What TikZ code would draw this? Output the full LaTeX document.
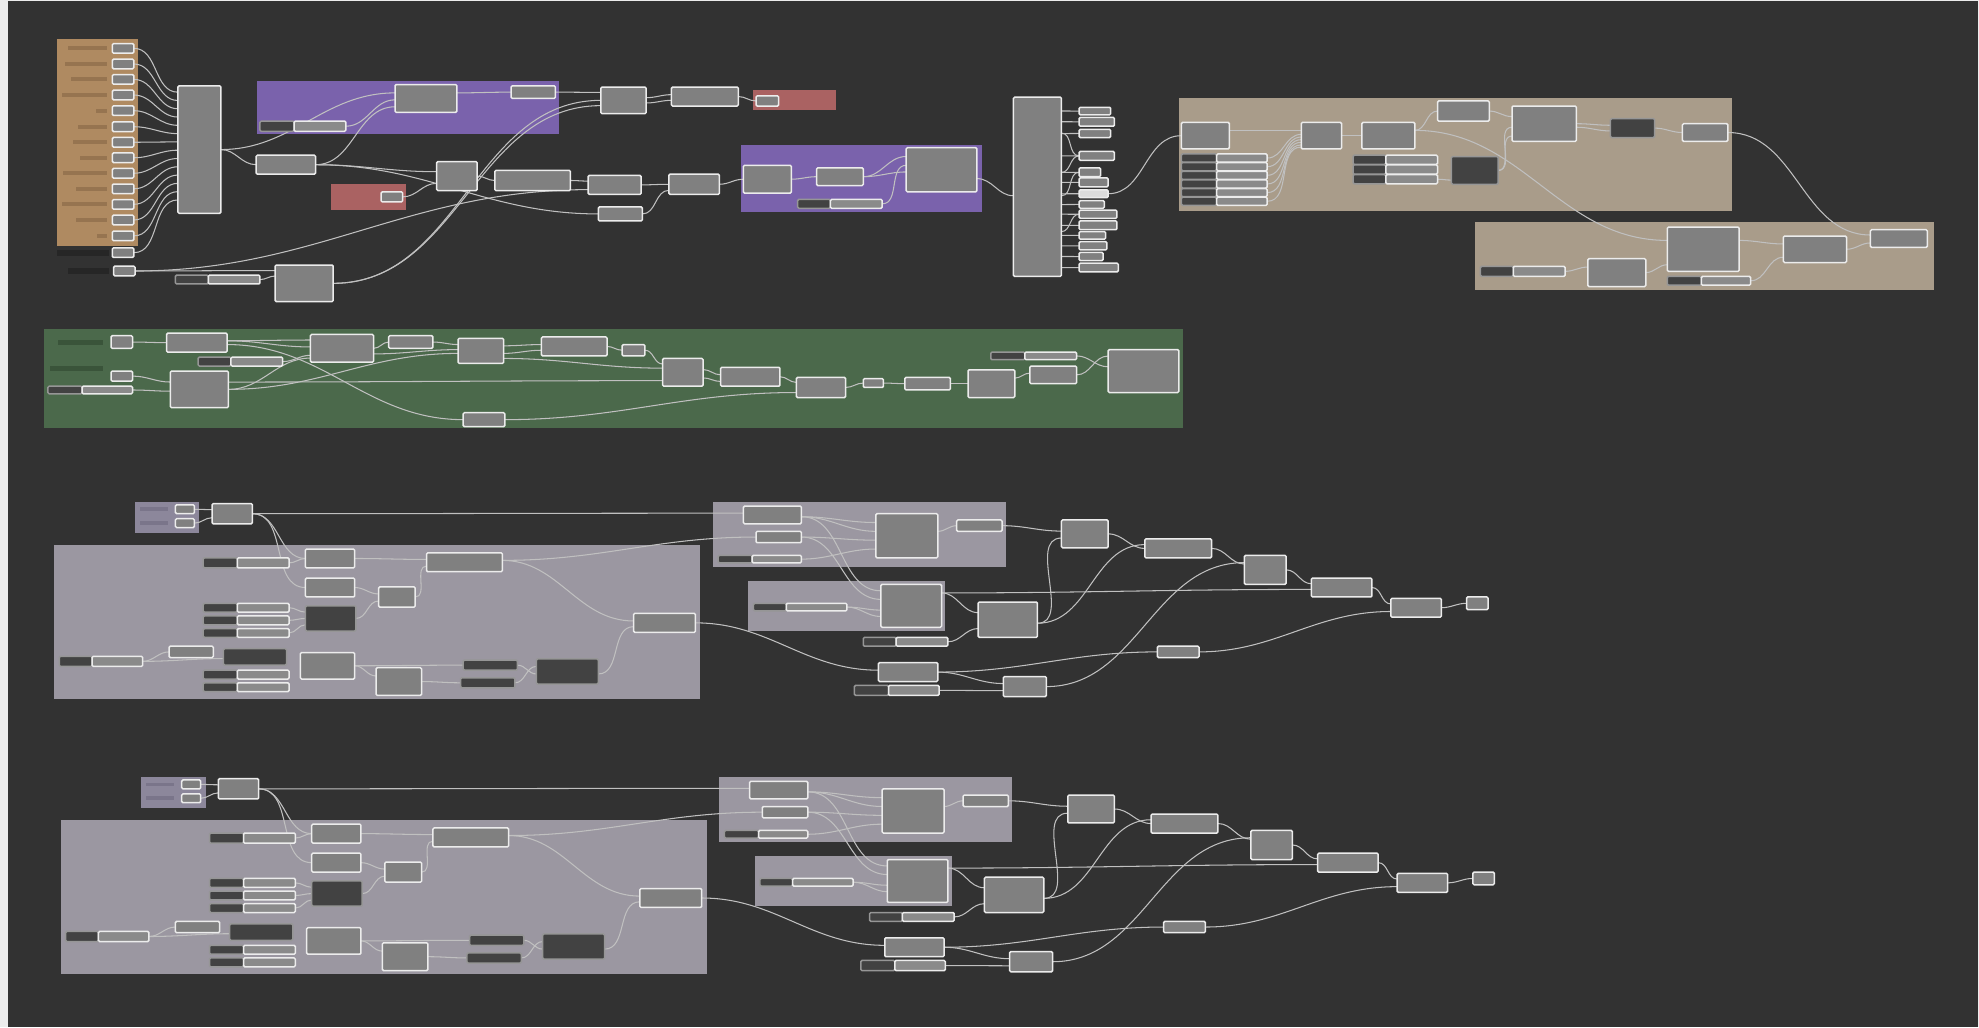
\documentclass[tikz,border=0pt]{standalone}
\usetikzlibrary{calc}
\pgfdeclarelayer{grp}\pgfdeclarelayer{wir}
\pgfsetlayers{grp,wir,main}
\definecolor{bgc}{RGB}{50,50,50}
\definecolor{edgec}{RGB}{236,236,236}
\definecolor{tanc}{RGB}{175,138,97}
\definecolor{tanlab}{RGB}{150,116,80}
\definecolor{purc}{RGB}{122,98,172}
\definecolor{redc}{RGB}{170,98,98}
\definecolor{beic}{RGB}{169,156,138}
\definecolor{grnc}{RGB}{75,105,75}
\definecolor{grnlab}{RGB}{58,84,58}
\definecolor{gryc}{RGB}{155,151,161}
\definecolor{lgrpc}{RGB}{140,135,155}
\definecolor{lgrplab}{RGB}{122,117,138}
\definecolor{ndfill}{RGB}{128,128,128}
\definecolor{ndline}{RGB}{236,236,236}
\definecolor{dkfill}{RGB}{66,66,66}
\definecolor{dkline}{RGB}{150,150,150}
\definecolor{slfill}{RGB}{138,138,138}
\definecolor{wirec}{RGB}{192,192,192}
\definecolor{blklab}{RGB}{38,38,38}
\tikzset{
 gn/.style={draw=ndline, fill=ndfill, line width=1.5pt, rounded corners=1.2pt, inner sep=0pt, outer sep=0pt},
 dn/.style={gn, draw=dkline, fill=dkfill},
 sdk/.style={gn, draw=dkline, fill=dkfill},
 sl/.style={gn, fill=slfill},
 hl/.style={gn, fill=ndline!85!ndfill},
 wire/.style={draw=wirec, line width=1.05pt},
}
% name x1 y1 x2 y2
\newcommand\gnd[6][gn]{\node[#1, minimum width={((#5)-(#3))*1.2621pt}, minimum height={((#6)-(#4))*1.2621pt}] (#2) at ({((#3)+(#5))/2},{((#4)+(#6))/2}) {};}
% name x1 y1 xsplit x2 y2
\newcommand\sld[6]{%
 \node[sdk, minimum width={((#4)-(#2))*1.2621pt}, minimum height={((#6)-(#3))*1.2621pt}] at ({((#2)+(#4))/2},{((#3)+(#6))/2}) {};
 \node[sl, minimum width={((#5)-(#4))*1.2621pt}, minimum height={((#6)-(#3))*1.2621pt}] (#1) at ({((#4)+(#5))/2},{((#3)+(#6))/2}) {};}
\newcommand\wre[4]{\draw[wire] ($(#1.north east)!#2!(#1.south east)$) to[out=0,in=180] ($(#3.north west)!#4!(#3.south west)$);}
\newcommand\lbar[5]{\fill[#1] (#2,#3) rectangle (#4,#5);}

\newcommand\lowsec[3]{%
\begin{scope}[shift={(#2,#3)}]
 \begin{pgfonlayer}{grp}
 \fill[lgrpc] (107,398) rectangle (158,422);
 \lbar{lgrplab}{111}{402}{133}{405}
 \lbar{lgrplab}{111}{413}{133}{416}
 \fill[gryc] (43,432) rectangle (555,554);
 \fill[gryc] (565,398) rectangle (797,449);
 \fill[gryc] (593,460) rectangle (749,500);
 \end{pgfonlayer}
 \gnd{#1n1}{139}{400}{154}{407}
 \gnd{#1n2}{139}{411}{154}{418}
 \gnd{#1a}{168}{399}{200}{415}
 \sld{#1sl1}{161}{442}{188}{229}{450}
 \gnd{#1b}{242}{435}{281}{450}
 \gnd{#1c}{338}{438}{398}{453}
 \gnd{#1d}{242}{458}{281}{473}
 \gnd{#1e}{300}{465}{329}{481}
 \sld{#1sl2}{161}{478}{188}{229}{485}
 \sld{#1sl3}{161}{488}{188}{229}{495}
 \sld{#1sl4}{161}{498}{188}{229}{505}
 \gnd[dn]{#1f}{242}{480}{282}{500}
 \sld{#1sl5}{47}{520}{73}{113}{528}
 \gnd{#1g}{134}{512}{169}{521}
 \gnd[dn]{#1h}{177}{514}{227}{527}
 \sld{#1sl6}{161}{531}{188}{229}{538}
 \sld{#1sl7}{161}{541}{188}{229}{548}
 \gnd{#1i}{238}{517}{281}{538}
 \gnd{#1j}{298}{529}{334}{551}
 \gnd[dn]{#1k}{367}{523}{410}{531}
 \gnd[dn]{#1l}{365}{537}{408}{545}
 \gnd[dn]{#1m}{425}{522}{474}{542}
 \gnd{#1nn}{502}{486}{551}{501}
 \gnd{#1A1}{589}{401}{635}{415}
 \gnd{#1A2}{599}{421}{635}{430}
 \sld{#1Asl}{569}{440}{596}{635}{446}
 \gnd{#1Abig}{694}{407}{743}{442}
 \gnd{#1A3}{758}{412}{794}{421}
 \sld{#1Bsl}{597}{478}{623}{671}{484}
 \gnd{#1Bbig}{698}{463}{746}{497}
 \gnd{#1o}{775}{477}{822}{505}
 \sld{#1sl8}{684}{505}{710}{751}{512}
 \gnd{#1p}{841}{412}{878}{434}
 \gnd{#1q}{907}{427}{960}{442}
 \gnd{#1r}{986}{440}{1019}{463}
 \gnd{#1s}{1039}{458}{1087}{473}
 \gnd{#1t}{1102}{474}{1142}{489}
 \gnd{#1u}{1162}{473}{1179}{483}
 \gnd{#1v}{917}{512}{950}{521}
 \gnd{#1w}{696}{525}{743}{540}
 \sld{#1sl9}{677}{543}{704}{744}{551}
 \gnd{#1x}{795}{536}{829}{552}
\end{scope}
\begin{pgfonlayer}{wir}
 \wre{#1n1}{0.5}{#1a}{0.3}
 \wre{#1n2}{0.5}{#1a}{0.7}
 \wre{#1a}{0.5}{#1A1}{0.4}
 \wre{#1a}{0.5}{#1b}{0.5}
 \wre{#1a}{0.5}{#1d}{0.5}
 \wre{#1sl1}{0.5}{#1b}{0.5}
 \wre{#1b}{0.5}{#1c}{0.35}
 \wre{#1d}{0.5}{#1e}{0.35}
 \wre{#1f}{0.5}{#1e}{0.7}
 \wre{#1sl2}{0.5}{#1f}{0.25}
 \wre{#1sl3}{0.5}{#1f}{0.5}
 \wre{#1sl4}{0.5}{#1f}{0.75}
 \wre{#1e}{0.5}{#1c}{0.7}
 \wre{#1c}{0.4}{#1A2}{0.5}
 \wre{#1c}{0.4}{#1nn}{0.4}
 \wre{#1sl5}{0.5}{#1g}{0.5}
 \wre{#1sl5}{0.5}{#1h}{0.6}
 \wre{#1i}{0.5}{#1k}{0.5}
 \wre{#1i}{0.5}{#1j}{0.3}
 \wre{#1j}{0.5}{#1l}{0.5}
 \wre{#1k}{0.5}{#1m}{0.6}
 \wre{#1l}{0.5}{#1m}{0.3}
 \wre{#1m}{0.6}{#1nn}{0.7}
 \wre{#1nn}{0.5}{#1w}{0.4}
 \wre{#1A1}{0.6}{#1Abig}{0.2}
 \wre{#1A1}{0.6}{#1Abig}{0.4}
 \wre{#1A1}{0.6}{#1Bbig}{0.15}
 \wre{#1A2}{0.5}{#1Abig}{0.6}
 \wre{#1A2}{0.5}{#1Bbig}{0.35}
 \wre{#1Asl}{0.5}{#1Abig}{0.8}
 \wre{#1Bsl}{0.5}{#1Bbig}{0.6}
 \wre{#1Bsl}{0.5}{#1Bbig}{0.75}
 \wre{#1Abig}{0.4}{#1A3}{0.5}
 \wre{#1A3}{0.5}{#1p}{0.4}
 \wre{#1Bbig}{0.2}{#1o}{0.3}
 \wre{#1Bbig}{0.2}{#1s}{0.6}
 \wre{#1sl8}{0.5}{#1o}{0.75}
 \wre{#1o}{0.6}{#1p}{0.65}
 \wre{#1o}{0.6}{#1q}{0.3}
 \wre{#1p}{0.5}{#1q}{0.5}
 \wre{#1q}{0.5}{#1r}{0.3}
 \wre{#1x}{0.5}{#1r}{0.25}
 \wre{#1r}{0.5}{#1s}{0.3}
 \wre{#1s}{0.5}{#1t}{0.3}
 \wre{#1t}{0.5}{#1u}{0.5}
 \wre{#1w}{0.5}{#1v}{0.5}
 \wre{#1w}{0.5}{#1x}{0.35}
 \wre{#1sl9}{0.5}{#1x}{0.7}
 \wre{#1v}{0.5}{#1t}{0.7}
\end{pgfonlayer}
}

\begin{document}
\begin{tikzpicture}[x=1.2621pt,y=-1.2621pt]
\useasboundingbox (0,0) rectangle (1568,814);
\begin{pgfonlayer}{grp}
\fill[bgc] (0,0) rectangle (1568,814);
\fill[edgec] (0,0) rectangle (6.3,814);
\fill[edgec] (0,0) rectangle (1568,0.8);
\fill[edgec] (1567.2,0) rectangle (1568,814);
% top groups
\fill[tanc] (45,31) rectangle (109,195);
\fill[purc] (204,64) rectangle (443,106);
\fill[redc] (262,146) rectangle (322,166);
\fill[redc] (597,71) rectangle (662,87);
\fill[purc] (587,115) rectangle (778,168);
\fill[beic] (934,78) rectangle (1372,167);
\fill[beic] (1169,176) rectangle (1532,230);
\fill[grnc] (35,261) rectangle (937,339);
% label bars
\foreach \yc/\xl in {38.3/54,50.7/51.6,62.9/56,75.3/49.4,87.7/75.8,100.4/62,112.7/57.6,125/63,137.3/50,149.6/60.6,161.9/49.4,174.3/60.6,186.9/77}
 {\fill[tanlab] (\xl,\yc-1.6) rectangle (85,\yc+1.6);}
\lbar{blklab}{45.5}{197.8}{86}{202.6}
\lbar{blklab}{54}{212.3}{86}{217.1}
\lbar{grnlab}{46}{269}{82}{273}
\lbar{grnlab}{40}{290}{82}{294}
\end{pgfonlayer}

% ---------- top section nodes
\foreach \i/\yc in {1/38.3,2/50.7,3/62.9,4/75.3,5/87.7,6/100.4,7/112.7,8/125,9/137.3,10/149.6,11/161.9,12/174.3,13/186.9,14/200.2}
 {\gnd{s\i}{89}{\yc-3.8}{106}{\yc+3.8}}
\gnd{s15}{90}{210.9}{107}{218.5}
\gnd{M}{141}{68}{175}{169}
\gnd{P1big}{313}{67}{362}{89}
\gnd{P1small}{405}{68}{440}{78}
\sld{P1sl}{206}{96}{233}{274}{104}
\gnd{A1}{203}{123}{250}{138}
\gnd{R1n}{302}{152}{319}{160}
\gnd{A2}{346}{128}{378}{151}
\gnd{A3}{392}{135}{452}{151}
\gnd{A4}{466}{139}{508}{154}
\gnd{A5}{474}{164}{509}{175}
\sld{B1}{139}{218}{165}{206}{225}
\gnd{B2}{218}{210}{264}{239}
\gnd{E1}{476}{69}{512}{90}
\gnd{E2}{532}{69}{585}{84}
\gnd{R2n}{599}{76}{617}{84}
\gnd{A6}{530}{138}{570}{154}
\gnd{P2a}{589}{131}{627}{153}
\gnd{P2b}{647}{133}{684}{147}
\gnd{P2big}{718}{117}{774}{152}
\sld{P2sl}{632}{158}{658}{699}{165}
\gnd{T}{803}{77}{841}{219}
\foreach \i/\ya/\yb/\xr in {1/85/91/880,2/93/100/883,3/102.5/109/880,4/120/127/883,5/133/140/872,6/141/148/878,8/159/165/875,9/166.5/173/885,10/175/182/885,11/183.5/189.5/876,12/191.5/198/877,13/200/206.5/874,14/208.5/215.5/886}
 {\gnd{o\i}{855}{\ya}{\xr}{\yb}}
\gnd[hl]{o7}{855}{150.5}{878}{156.5}
% beige
\gnd{G1a}{936}{97}{974}{118}
\foreach \i in {1,...,6}{\sld{G1s\i}{936}{122+(\i-1)*6.85}{964}{1004}{122+\i*6.85-0.4}}
\gnd{G1b}{1031}{97}{1063}{118}
\gnd{G1c}{1079}{97}{1121}{118}
\gnd{G1d}{1139}{80}{1180}{96}
\gnd{G1e}{1198}{84}{1249}{112}
\gnd[dn]{G1f}{1276}{94}{1311}{109}
\gnd{G1g}{1333}{98}{1369}{112}
\foreach \i in {1,2,3}{\sld{G1t\i}{1072}{123+(\i-1)*7.7}{1098}{1139}{123+\i*7.7-0.5}}
\gnd[dn]{G1h}{1150}{124}{1187}{146}
\sld{G2sl}{1173}{211}{1199}{1240}{219}
\gnd{G2a}{1258}{205}{1304}{227}
\gnd{G2b}{1321}{180}{1378}{215}
\sld{G2sl2}{1321}{219}{1348}{1387}{226}
\gnd{G2c}{1413}{187}{1463}{208}
\gnd{G2d}{1482}{182}{1527}{196}
% green
\gnd{Gs1}{88}{266}{105}{276}
\gnd{Gn1}{132}{264}{180}{279}
\sld{Gsl1}{157}{283}{183}{224}{290}
\gnd{Gs2}{88}{294}{105}{302}
\sld{Gsl2}{38}{306}{65}{105}{312}
\gnd{Gn2}{135}{294}{181}{323}
\gnd{Gn3}{246}{265}{296}{287}
\gnd{Gn4}{308}{266}{343}{276}
\gnd{Gn5}{363}{268}{399}{288}
\gnd{Gn6}{429}{267}{481}{282}
\gnd{Gs3}{493}{273}{511}{282}
\gnd{Gn7}{367}{327}{400}{338}
\gnd{Gn8}{525}{284}{557}{306}
\gnd{Gn9}{571}{291}{618}{306}
\gnd{Gn10}{631}{299}{670}{315}
\gnd{Gs4}{684}{300}{700}{307}
\gnd{Gn11}{717}{299}{753}{309}
\gnd{Gn12}{767}{293}{804}{315}
\sld{Gsl3}{785}{279}{812}{853}{285}
\gnd{Gn13}{816}{290}{853}{304}
\gnd{Gn14}{878}{277}{934}{311}

% ---------- wires top
\begin{pgfonlayer}{wir}
\foreach \i in {1,...,14}{\pgfmathsetmacro\ff{0.05+(\i-1)*0.065}\wre{s\i}{0.5}{M}{\ff}}
\wre{M}{0.5}{P1big}{0.3}
\wre{M}{0.5}{A1}{0.5}
\wre{P1sl}{0.5}{P1big}{0.55}
\wre{A1}{0.5}{P1big}{0.8}
\wre{P1big}{0.3}{P1small}{0.5}
\wre{P1small}{0.5}{E1}{0.2}
\wre{A1}{0.5}{A2}{0.35}
\wre{A1}{0.5}{A5}{0.5}
\wre{R1n}{0.5}{A2}{0.75}
\wre{A2}{0.5}{A3}{0.5}
\wre{A3}{0.5}{A4}{0.3}
\wre{s15}{0.5}{A4}{0.75}
\wre{s15}{0.5}{B2}{0.15}
\wre{B1}{0.5}{B2}{0.3}
\wre{B2}{0.5}{E1}{0.5}
\wre{B2}{0.5}{E1}{0.7}
\wre{A4}{0.5}{A6}{0.5}
\wre{A5}{0.5}{A6}{0.8}
\wre{A6}{0.5}{P2a}{0.5}
\wre{E1}{0.4}{E2}{0.4}
\wre{E1}{0.6}{E2}{0.7}
\wre{E2}{0.5}{R2n}{0.5}
\wre{P2a}{0.5}{P2b}{0.5}
\wre{P2b}{0.5}{P2big}{0.2}
\wre{P2b}{0.5}{P2big}{0.55}
\wre{P2sl}{0.5}{P2big}{0.4}
\wre{P2big}{0.7}{T}{0.55}
\foreach \i/\f in {1/0.077,2/0.137,3/0.203,4/0.327,5/0.419,6/0.475,7/0.539,8/0.599,9/0.653,10/0.715,11/0.771,12/0.83,13/0.889,14/0.951}{\wre{T}{\f}{o\i}{0.5}}
\wre{T}{0.2}{o4}{0.5}
\wre{T}{0.42}{o4}{0.5}
\wre{T}{0.55}{o5}{0.5}
\wre{T}{0.75}{o9}{0.5}
\wre{o7}{0.5}{G1a}{0.5}
% beige
\wre{G1a}{0.3}{G1b}{0.3}
\foreach \i/\f in {1/0.45,2/0.55,3/0.65,4/0.75,5/0.85,6/0.93}{\wre{G1s\i}{0.5}{G1b}{\f}}
\wre{G1b}{0.5}{G1c}{0.5}
\wre{G1c}{0.3}{G1d}{0.5}
\wre{G1c}{0.3}{G2b}{0.3}
\wre{G1d}{0.5}{G1e}{0.3}
\wre{G1h}{0.5}{G1e}{0.6}
\wre{G1h}{0.5}{G1e}{0.85}
\wre{G1t3}{0.5}{G1h}{0.85}
\wre{G1e}{0.5}{G1f}{0.35}
\wre{G1e}{0.6}{G1f}{0.65}
\wre{G1f}{0.5}{G1g}{0.5}
\wre{G1g}{0.5}{G2d}{0.3}
\wre{G2sl}{0.5}{G2a}{0.3}
\wre{G2a}{0.5}{G2b}{0.85}
\wre{G2b}{0.3}{G2c}{0.3}
\wre{G2sl2}{0.5}{G2c}{0.8}
\wre{G2c}{0.5}{G2d}{0.75}
% green
\wre{Gs1}{0.5}{Gn1}{0.5}
\wre{Gn1}{0.4}{Gn3}{0.2}
\wre{Gn1}{0.4}{Gn3}{0.45}
\wre{Gn1}{0.6}{Gn7}{0.5}
\wre{Gsl1}{0.5}{Gn3}{0.75}
\wre{Gs2}{0.5}{Gn2}{0.3}
\wre{Gsl2}{0.5}{Gn2}{0.55}
\wre{Gn2}{0.5}{Gn3}{0.85}
\wre{Gn2}{0.5}{Gn5}{0.6}
\wre{Gn2}{0.3}{Gn8}{0.8}
\wre{Gn3}{0.5}{Gn4}{0.5}
\wre{Gn3}{0.7}{Gn5}{0.45}
\wre{Gn4}{0.5}{Gn5}{0.25}
\wre{Gn5}{0.3}{Gn6}{0.4}
\wre{Gn5}{0.6}{Gn6}{0.7}
\wre{Gn5}{0.8}{Gn8}{0.35}
\wre{Gn6}{0.5}{Gs3}{0.5}
\wre{Gs3}{0.5}{Gn8}{0.2}
\wre{Gn8}{0.4}{Gn9}{0.4}
\wre{Gn8}{0.7}{Gn9}{0.75}
\wre{Gn9}{0.5}{Gn10}{0.25}
\wre{Gn7}{0.5}{Gn10}{0.75}
\wre{Gn10}{0.5}{Gs4}{0.5}
\wre{Gs4}{0.5}{Gn11}{0.5}
\wre{Gn11}{0.5}{Gn12}{0.5}
\wre{Gn12}{0.3}{Gn13}{0.4}
\wre{Gsl3}{0.5}{Gn14}{0.4}
\wre{Gn13}{0.5}{Gn14}{0.15}
\end{pgfonlayer}

% ---------- lower sections
\lowsec{la}{0}{0}
\lowsec{lb}{5}{218}
\end{tikzpicture}
\end{document}
